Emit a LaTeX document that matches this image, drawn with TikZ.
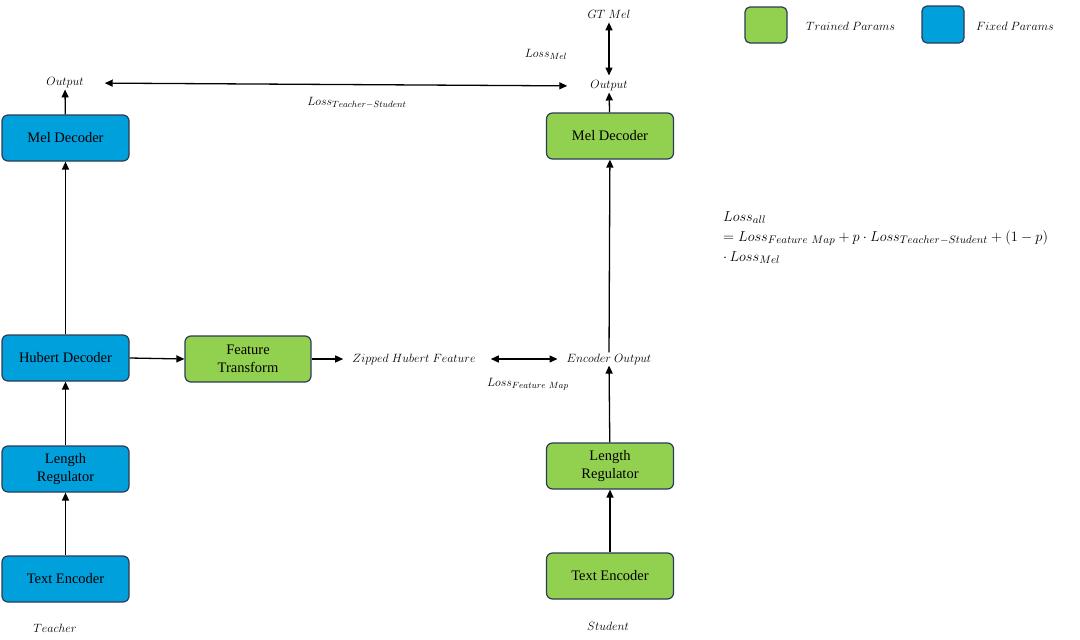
\documentclass[tikz,border=0pt]{standalone}
\usepackage{fontspec}
\setmainfont{Liberation Serif}
\usetikzlibrary{arrows.meta}
\definecolor{fixedc}{HTML}{00A0DC}
\definecolor{trainc}{HTML}{92D050}
\definecolor{edgec}{HTML}{2C3B57}
\tikzset{
  blk/.style={draw=edgec, line width=1.2pt, rounded corners=6pt, minimum width=127pt, minimum height=46pt, align=center, font=\fontsize{14.5}{18}\selectfont, inner sep=1pt},
  fixedblk/.style={blk, fill=fixedc},
  trainblk/.style={blk, fill=trainc},
  lbl/.style={font=\fontsize{12.8}{14}\selectfont, inner sep=1pt},
  arr/.style={-{Triangle[length=8pt,width=7pt]}, line width=1.3pt},
  darr/.style={{Triangle[length=8pt,width=7pt]}-{Triangle[length=8pt,width=7pt]}, line width=1.3pt},
}
\begin{document}
\begin{tikzpicture}[x=1pt,y=-1pt]
\useasboundingbox (0,0) rectangle (1080,640);
% teacher column
\node[fixedblk] (tmel) at (65.5,138) {Mel Decoder};
\node[fixedblk] (thub) at (65.5,358) {Hubert Decoder};
\node[fixedblk] (tlen) at (65.5,469) {Length\\Regulator};
\node[fixedblk] (ttxt) at (65.5,579) {Text Encoder};
\node[lbl] (tout) at (65,83) {$Output$};
\node[lbl] (teacher) at (55,628) {$Teacher$};
% student column
\node[trainblk] (smel) at (610,136) {Mel Decoder};
\node[trainblk] (slen) at (610,466) {Length\\Regulator};
\node[trainblk] (stxt) at (610,576) {Text Encoder};
\node[lbl] (sout) at (609,86) {$Output$};
\node[lbl] (gt) at (609,14) {$GT\ Mel$};
\node[lbl] (lmel) at (546,54) {$Loss_{Mel}$};
\node[lbl] (encout) at (609,359) {$Encoder\ Output$};
\node[lbl] (student) at (608,626) {$Student$};
% middle
\node[trainblk, minimum width=126pt] (ft) at (248,359) {Feature\\Transform};
\node[lbl] (zip) at (414,359) {$Zipped\ Hubert\ Feature$};
\node[lbl] (lfm) at (528,384) {$Loss_{Feature\ Map}$};
\node[lbl] (lts) at (357,103) {$Loss_{Teacher-Student}$};
% legend
\node[draw=edgec, line width=1.2pt, fill=trainc, rounded corners=5pt, minimum width=42pt, minimum height=36pt] (legt) at (766,25) {};
\node[lbl, font=\fontsize{12}{13}\selectfont, anchor=west] (legtl) at (805,26) {$Trained\ Params$};
\node[draw=edgec, line width=1.2pt, fill=fixedc, rounded corners=5pt, minimum width=42pt, minimum height=37pt] (legf) at (943,24.5) {};
\node[lbl, font=\fontsize{12}{13}\selectfont, anchor=west] (legfl) at (975,26) {$Fixed\ Params$};
% formula
\node[lbl, font=\fontsize{15.5}{20}\selectfont, anchor=north west, align=left] (formula) at (722,210) {$Loss_{all}$\\$= Loss_{Feature\ Map} + p\cdot Loss_{Teacher-Student} + (1-p)$\\$\cdot\, Loss_{Mel}$};
% arrows teacher
\draw[arr] (ttxt) -- (tlen);
\draw[arr] (tlen) -- (thub);
\draw[arr] (thub) -- (tmel);
\draw[arr] (tmel) -- (tout);
\draw[arr] (thub.east) -- (ft.west);
\draw[arr, shorten >=8pt] (ft) -- (zip);
\draw[darr, shorten <=14pt, shorten >=8pt] (zip) -- (encout);
% arrows student
\draw[arr] (stxt) -- (slen);
\draw[arr] (slen) -- (encout);
\draw[arr] (encout) -- (smel);
\draw[arr] (smel) -- (sout);
\draw[darr, shorten <=4pt, shorten >=3pt] (sout) -- (gt);
\draw[darr, shorten <=22pt, shorten >=20pt] (sout.west) -- (tout.east);
\end{tikzpicture}
\end{document}
